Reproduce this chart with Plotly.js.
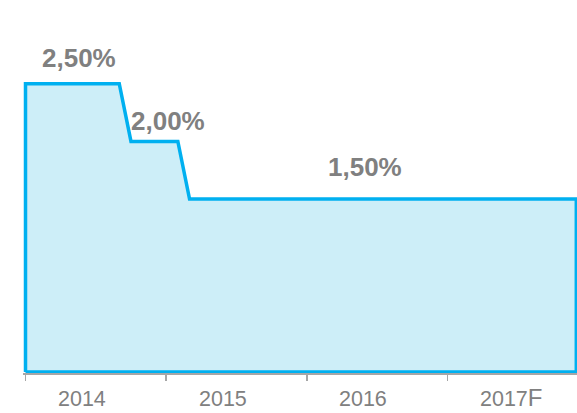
<!DOCTYPE html>
<html>
<head>
<meta charset="utf-8">
<script src="https://cdn.plot.ly/plotly-3.0.1.min.js"></script>
<style>html,body{margin:0;padding:0;background:#fff;}#chart{width:577px;height:413px;}</style>
</head>
<body>
<div id="chart"></div>
<script>
// Policy rate steps, x in months from January 2014
var stepMonths = [0, 8, 9, 13, 14, 47];
var stepRates  = [2.5, 2.5, 2.0, 2.0, 1.5, 1.5];
// Labelled rate levels
var labelRates = [2.5, 2.0, 1.5];
var labelTexts = ['2,50%', '2,00%', '1,50%'];
// Year categories
var years = ['2014', '2015', '2016', '2017'];
var yearSuffix = ['', '', '', 'F'];

// closed polygon (area down to zero)
var px = [stepMonths[0]].concat(stepMonths, [stepMonths[stepMonths.length-1], stepMonths[0]]);
var py = [0].concat(stepRates, [0, 0]);

var trace = {
  x: px, y: py, type: 'scatter', mode: 'lines',
  fill: 'toself', fillcolor: '#CDEEF8',
  line: {color: '#00B0F0', width: 3.5, shape: 'linear'},
  hoverinfo: 'skip'
};

var gray = '#808080';
var font = 'Liberation Sans, Arial, sans-serif';
var labelX = [4.6, 12.2, 29.0];
var labelShift = [25.5, 20.5, 32.5];
var ann = [];
labelRates.forEach(function(v, i){
  ann.push({x: labelX[i], y: v, xref: 'x', yref: 'y', text: labelTexts[i], showarrow: false,
    xanchor: 'center', yanchor: 'middle', yshift: labelShift[i],
    font: {family: font, size: 26, color: gray, weight: 'bold'}});
});
years.forEach(function(y, i){
  var hasSuffix = !!yearSuffix[i];
  var t = y + (hasSuffix ? '<span style="font-size:24px">' + yearSuffix[i] + '</span>' : '');
  ann.push({x: i*12 + 2.6, y: 0, xref: 'x', yref: 'paper', text: t, showarrow: false,
    xanchor: 'left', yanchor: 'middle', yshift: hasSuffix ? -24.5 : -26,
    font: {family: font, size: 21.5, color: gray}});
});

var layout = {
  width: 577, height: 413,
  margin: {l: 23, r: 0, t: 20, b: 40},
  paper_bgcolor: '#ffffff', plot_bgcolor: '#ffffff',
  showlegend: false,
  xaxis: {range: [-0.213, 47.06], tickvals: years.map(function(_, i){return i*12;}),
    showticklabels: false, ticks: 'outside', ticklen: 6, tickwidth: 1.5, tickcolor: '#a6a6a6',
    showline: true, linecolor: '#a6a6a6', linewidth: 2, showgrid: false, zeroline: false, fixedrange: true},
  yaxis: {range: [-0.0087, 3.053], showticklabels: false, showgrid: false, zeroline: false,
    showline: false, ticks: '', fixedrange: true},
  annotations: ann
};

Plotly.newPlot('chart', [trace], layout, {displayModeBar: false, staticPlot: true});
</script>
</body>
</html>
